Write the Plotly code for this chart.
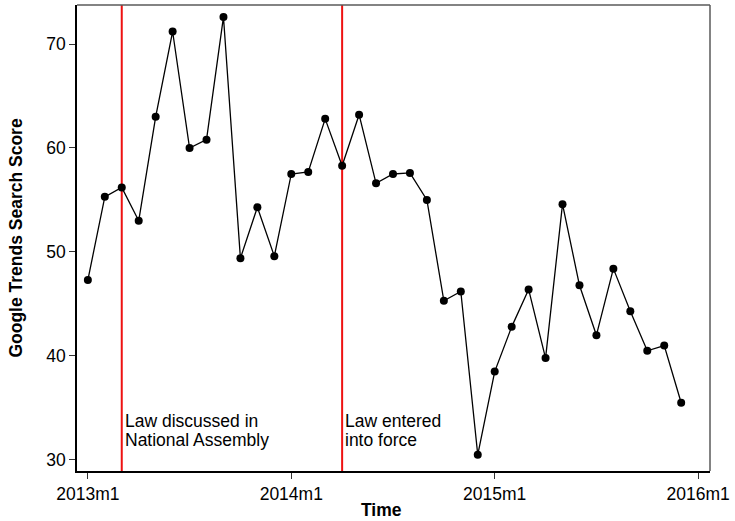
import plotly.graph_objects as go

# ---- data ----
months = [f"{y}m{m}" for y in (2013, 2014, 2015) for m in range(1, 13)]
scores = [47.3, 55.3, 56.2, 53.0, 63.0, 71.2, 60.0, 60.8, 72.6, 49.4, 54.3, 49.6,
          57.5, 57.7, 62.8, 58.3, 63.2, 56.6, 57.5, 57.6, 55.0, 45.3, 46.2, 30.5,
          38.5, 42.8, 46.4, 39.8, 54.6, 46.8, 42.0, 48.4, 44.3, 40.5, 41.0, 35.5]
event_months = ["2013m3", "2014m4"]
event_labels = [["Law discussed in", "National Assembly"], ["Law entered", "into force"]]
xtick_labels = ["2013m1", "2014m1", "2015m1", "2016m1"]
ytick_vals = [30, 40, 50, 60, 70]

all_months = months + ["2016m1"]
x = [all_months.index(m) for m in months]
xtick_vals = [all_months.index(t) for t in xtick_labels]
event_x = [all_months.index(m) for m in event_months]

FONT = "Liberation Sans, Arial, Helvetica, sans-serif"

fig = go.Figure()
fig.add_trace(go.Scatter(
    x=x, y=scores, mode="lines+markers",
    line=dict(color="black", width=1.3),
    marker=dict(color="black", size=8),
    showlegend=False, hoverinfo="skip"))

shapes = []
annotations = []
for ex, lab in zip(event_x, event_labels):
    shapes.append(dict(type="line", xref="x", yref="paper", x0=ex, x1=ex, y0=0, y1=1,
                       line=dict(color="#ee1111", width=2), layer="below"))
    for i, t in enumerate(lab):
        annotations.append(dict(x=ex, y=33.75 - i * 1.83, xref="x", yref="y", text=t,
                                showarrow=False, xanchor="left", yanchor="middle",
                                xshift=1, font=dict(family=FONT, size=17.5, color="black")))

# gray top/right frame
shapes.append(dict(type="line", xref="paper", yref="paper", x0=0, x1=1, y0=1, y1=1,
                   line=dict(color="#5a5a5a", width=1.5)))
shapes.append(dict(type="line", xref="paper", yref="paper", x0=1, x1=1, y0=0, y1=1,
                   line=dict(color="#5a5a5a", width=1.5)))

annotations.append(dict(x=0.481, y=-0.084, xref="paper", yref="paper", text="<b>Time</b>",
                        showarrow=False, xanchor="center", yanchor="middle",
                        font=dict(family=FONT, size=17.5, color="black")))
annotations.append(dict(x=-0.097, y=0.50, xref="paper", yref="paper",
                        text="<b>Google Trends Search Score</b>", textangle=-90,
                        showarrow=False, xanchor="center", yanchor="middle",
                        font=dict(family=FONT, size=17.5, color="black")))

fig.update_layout(
    width=735, height=521,
    margin=dict(l=77, r=20, t=5, b=50),
    paper_bgcolor="white", plot_bgcolor="white",
    font=dict(family=FONT, size=17, color="black"),
    shapes=shapes, annotations=annotations,
    xaxis=dict(range=[-0.64, 36.7], tickvals=xtick_vals, ticktext=xtick_labels,
               showgrid=False, zeroline=False, showline=True, linecolor="black", linewidth=1.5,
               ticks="outside", ticklen=6, tickwidth=1.2, tickcolor="#333",
               tickfont=dict(family=FONT, size=17.5)),
    yaxis=dict(range=[28.94, 73.75], tickvals=ytick_vals,
               showgrid=False, zeroline=False, showline=True, linecolor="black", linewidth=1.5,
               ticks="outside", ticklen=6, tickwidth=1.2, tickcolor="#333",
               tickfont=dict(family=FONT, size=17.5)),
)

fig.write_html("out.html", config={"displayModeBar": False},
               post_script="document.body.style.margin='0px';document.body.style.overflow='hidden';")
